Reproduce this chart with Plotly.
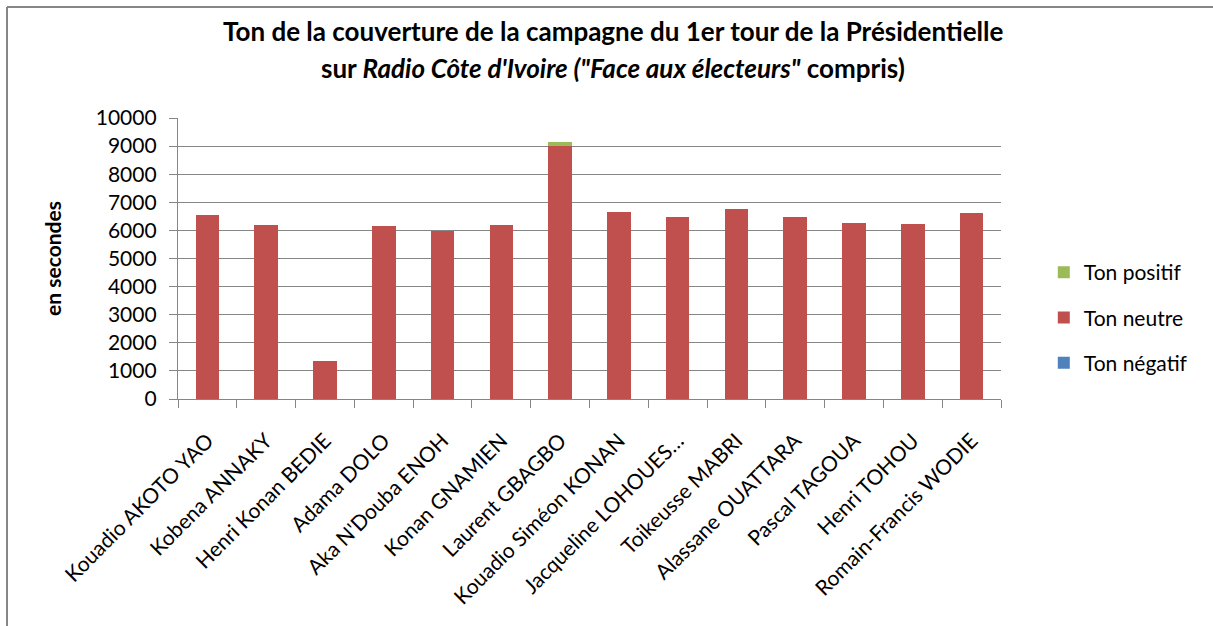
import plotly.graph_objects as go

candidats = ["Kouadio AKOTO YAO", "Kobena ANNAKY", "Henri Konan BEDIE", "Adama DOLO",
             "Aka N'Douba ENOH", "Konan GNAMIEN", "Laurent GBAGBO", "Kouadio Siméon KONAN",
             "Jacqueline LOHOUES…", "Toikeusse MABRI", "Alassane OUATTARA", "Pascal TAGOUA",
             "Henri TOHOU", "Romain-Francis WODIE"]
ton_negatif = [0, 0, 0, 0, 0, 0, 0, 0, 0, 0, 0, 0, 0, 0]
ton_neutre = [6550, 6195, 1340, 6160, 5970, 6180, 9010, 6670, 6490, 6750, 6490, 6265, 6240, 6620]
ton_positif = [0, 0, 0, 0, 0, 0, 130, 0, 0, 0, 0, 0, 0, 0]

titre_ligne1 = "<b>Ton de la couverture de la campagne du 1er tour de la Présidentielle</b>"
titre_ligne2 = "<b>sur <i>Radio Côte d'Ivoire (\"Face aux électeurs\"</i> compris)</b>"

FONT = "Lato, Carlito, Calibri, sans-serif"
FS = 21

fig = go.Figure()
fig.add_trace(go.Bar(x=candidats, y=ton_negatif, name="Ton négatif", marker_color="#4F81BD",
                     legendgroup="a", legendrank=3, marker_line_width=0))
fig.add_trace(go.Bar(x=candidats, y=ton_neutre, name="Ton neutre", marker_color="#C0504D",
                     legendgroup="b", legendrank=2, marker_line_width=0))
fig.add_trace(go.Bar(x=candidats, y=ton_positif, name="Ton positif", marker_color="#9BBB59",
                     legendgroup="c", legendrank=1, marker_line_width=0))

L, R, T, B = 178, 212, 118, 227
W, H = 1213, 626
pw, ph = W - L - R, H - T - B

def px_x(p):
    return (p - L) / pw

def px_y(p):
    return (H - B - p) / ph

fig.update_layout(
    width=W, height=H,
    barmode="stack", bargap=0.6,
    paper_bgcolor="white", plot_bgcolor="white",
    margin=dict(l=L, r=R, t=T, b=B, autoexpand=False),
    font=dict(family=FONT, color="black", size=FS),
    showlegend=True,
    legend=dict(x=1.052, y=0.29, xanchor="left", yanchor="middle",
                traceorder="grouped", tracegroupgap=15,
                font=dict(family=FONT, size=FS), itemwidth=30),
    yaxis=dict(range=[0, 10000], dtick=1000, tickformat="d",
               showgrid=True, gridcolor="#868686", gridwidth=1.3,
               showline=True, linecolor="#868686", linewidth=1.3,
               ticks="outside", ticklen=8, tickcolor="#868686", ticklabelstandoff=8,
               title=dict(text="<b>en secondes</b>", font=dict(family=FONT, size=FS), standoff=28),
               tickfont=dict(size=FS), zeroline=False),
    xaxis=dict(showline=True, linecolor="#868686", linewidth=1.3, ticks="outside",
               tickson="boundaries", ticklen=8, tickcolor="#868686", tickangle=-45,
               ticklabelstandoff=20,
               tickfont=dict(size=FS), showgrid=False),
)

for txt, py in ((titre_ligne1, 31), (titre_ligne2, 68)):
    fig.add_annotation(text=txt, xref="paper", yref="paper", x=px_x(613), y=px_y(py),
                       xanchor="center", yanchor="middle", showarrow=False,
                       font=dict(family=FONT, size=26, color="black"))

# outer chart frame (left and top edges only are visible in the reference)
fig.add_shape(type="line", xref="paper", yref="paper",
              x0=px_x(7), x1=px_x(W + 50), y0=px_y(7), y1=px_y(7),
              line=dict(color="#868686", width=2), layer="below")
fig.add_shape(type="line", xref="paper", yref="paper",
              x0=px_x(7), x1=px_x(7), y0=px_y(7), y1=px_y(H + 50),
              line=dict(color="#868686", width=2), layer="below")

fig.write_html("out.html", config={"displayModeBar": False},
               post_script="document.body.style.margin='0';document.body.style.overflow='hidden';")
